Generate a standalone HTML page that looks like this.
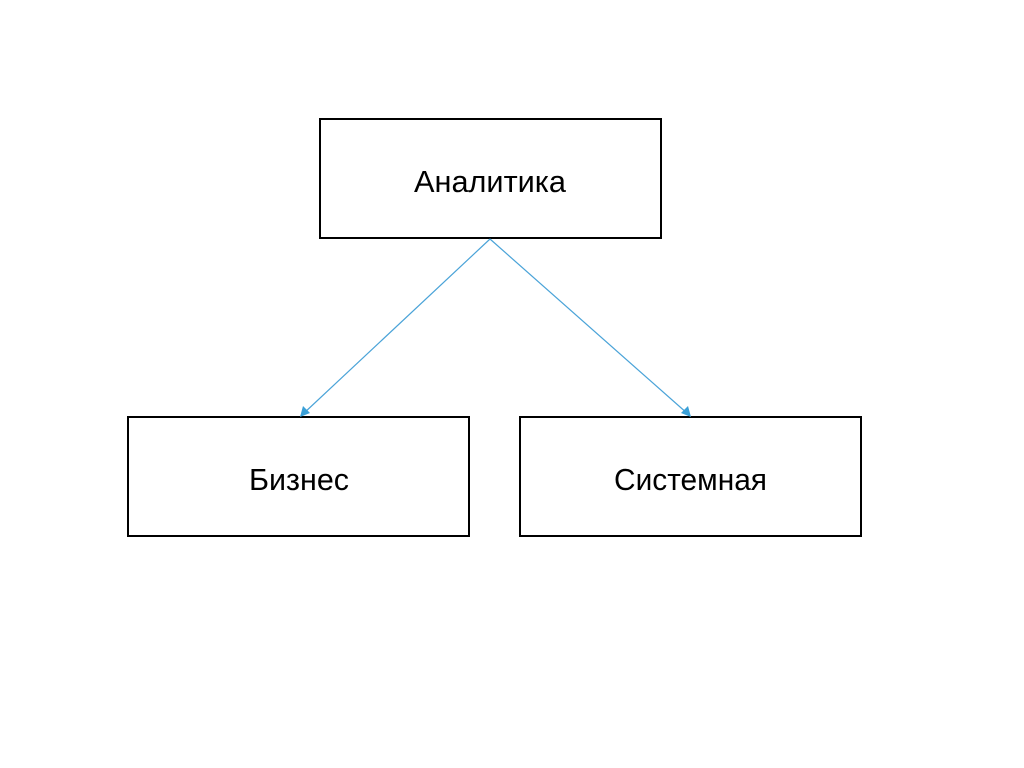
<!DOCTYPE html>
<html><head><meta charset="utf-8"><style>
html,body{margin:0;padding:0;background:#fff;width:1024px;height:768px;overflow:hidden}
</style></head><body>
<svg width="1024" height="768" xmlns="http://www.w3.org/2000/svg">
<rect x="320" y="119" width="341" height="119" fill="#fff" stroke="#000" stroke-width="2"/>
<rect x="128" y="417" width="341" height="119" fill="#fff" stroke="#000" stroke-width="2"/>
<rect x="520" y="417" width="341" height="119" fill="#fff" stroke="#000" stroke-width="2"/>
<g stroke="#4aa3d8" stroke-width="1.2" fill="none">
<line x1="490" y1="239" x2="303" y2="414"/>
<line x1="490" y1="239" x2="688" y2="414"/>
</g>
<polygon points="300,417 303,406 310,413" fill="#3aa0d8"/>
<polygon points="691,417 681,413 688,406" fill="#3aa0d8"/>
<g font-family="Liberation Sans, DejaVu Sans, sans-serif" font-size="31" fill="#000">
<text x="414" y="192" textLength="152" lengthAdjust="spacingAndGlyphs">Аналитика</text>
<text x="249" y="490" textLength="100" lengthAdjust="spacingAndGlyphs">Бизнес</text>
<text x="614" y="490" textLength="153" lengthAdjust="spacingAndGlyphs">Системная</text>
</g>
</svg>
</body></html>
